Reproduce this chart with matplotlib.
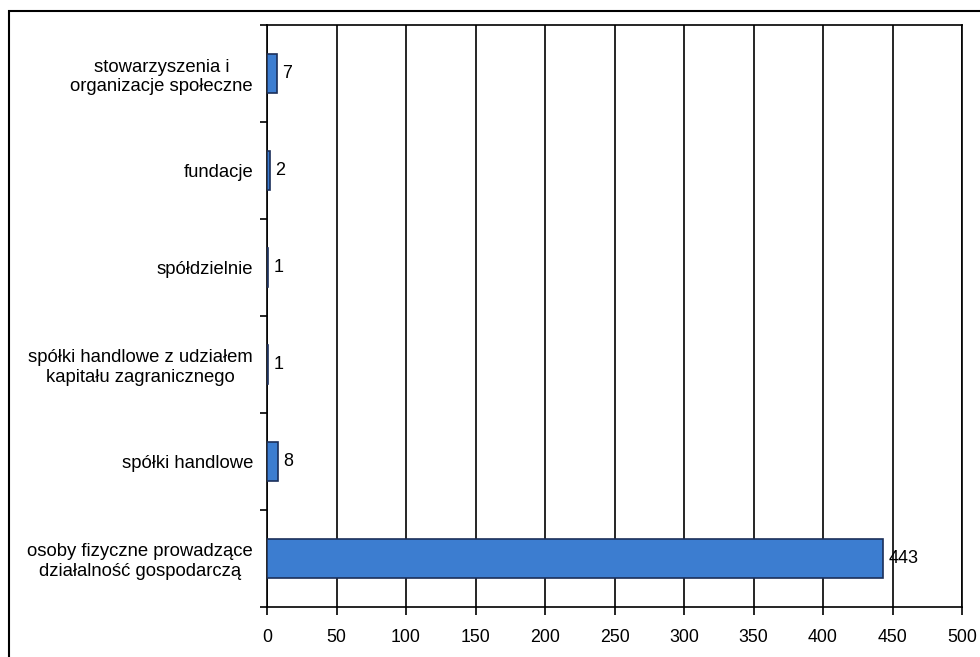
import matplotlib
matplotlib.use('Agg')
import matplotlib.pyplot as plt
from matplotlib.patches import Rectangle
import numpy as np

plt.rcParams['font.family'] = ['Liberation Sans', 'DejaVu Sans']

# categories from top to bottom
categories = ['stowarzyszenia i\norganizacje społeczne',
              'fundacje',
              'spółdzielnie',
              'spółki handlowe z udziałem\nkapitału zagranicznego',
              'spółki handlowe',
              'osoby fizyczne prowadzące\ndziałalność gospodarczą']
values = [7, 2, 1, 1, 8, 443]
x_ticks = list(range(0, 501, 50))

bar_color = '#3c7dd0'
edge_color = '#1b2f5a'

fig = plt.figure(figsize=(9.8, 6.57), dpi=100)
# outer frame of the scanned figure
fig.add_artist(Rectangle((9 / 980, -0.05), 1.2, 1 - 11 / 657 + 0.05,
                         transform=fig.transFigure, fill=False,
                         edgecolor='black', linewidth=1.5))

ax = fig.add_axes([267 / 980, 1 - 607 / 657, 695 / 980, 582 / 657])

n = len(categories)
y = np.arange(n)[::-1]
ax.barh(y, values, height=0.41, color=bar_color, edgecolor=edge_color,
        linewidth=1.2, zorder=3)

for yi, v in zip(y, values):
    ax.text(v + 4, yi, str(v), va='center', ha='left', fontsize=13, zorder=4)

ax.set_xlim(0, 500)
ax.set_ylim(-0.5, n - 0.5)
ax.set_xticks(x_ticks)
ax.set_xticklabels([str(t) for t in x_ticks], fontsize=12.8)
ax.tick_params(axis='x', direction='out', length=6, width=1.2, pad=10)

ax.set_yticks(y)
ax.set_yticklabels(categories, fontsize=13.3)
for t in ax.get_yticklabels():
    t.set_multialignment('center')
    t.set_linespacing(1.2)
ax.set_yticks(np.arange(n + 1) - 0.5, minor=True)
ax.tick_params(axis='y', which='major', length=0, pad=10)
ax.tick_params(axis='y', which='minor', direction='out', length=5, width=1.2)

ax.xaxis.grid(True, color='black', linewidth=1.2, zorder=1)
ax.set_axisbelow(True)
for s in ax.spines.values():
    s.set_linewidth(1.2)

plt.savefig('out.png', dpi=100)
